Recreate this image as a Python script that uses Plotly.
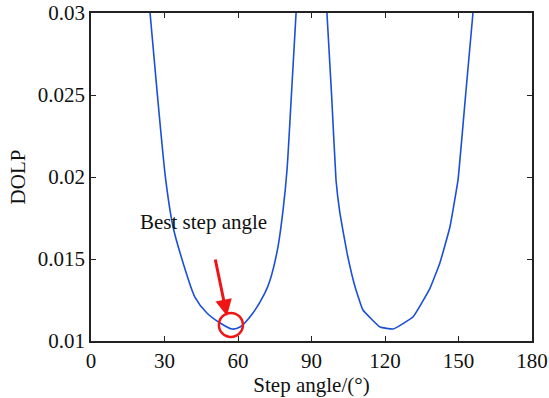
import plotly.graph_objects as go

# Step angle (deg) and DOLP values
step_left = [24.1, 27.1, 30.5, 33.5, 37.6, 42.4, 47.3, 52.7, 57.6, 60.8, 66.1, 71.0, 73.1, 76.3, 78.4, 80.0, 81.8, 83.7]
dolp_left = [0.0300, 0.0250, 0.01982, 0.01695, 0.01476, 0.01268, 0.01171, 0.01110, 0.01073, 0.01085,
             0.01171, 0.01293, 0.01372, 0.01573, 0.01799, 0.02043, 0.0250, 0.0300]
step_right = [96.3, 98.2, 100.0, 101.6, 104.5, 107.8, 111.0, 118.0, 123.3, 131.4, 138.4, 142.4, 146.5, 149.8, 152.9, 155.9]
dolp_right = [0.0300, 0.0250, 0.01982, 0.01780, 0.01537, 0.01329, 0.01189, 0.01085, 0.01073, 0.01146,
              0.01323, 0.01476, 0.01695, 0.01982, 0.0250, 0.0300]

x_ticks = [0, 30, 60, 90, 120, 150, 180]
y_ticks = [0.01, 0.015, 0.02, 0.025, 0.03]
y_tick_text = ["0.01", "0.015", "0.02", "0.025", "0.03"]

best_angle = 57.1
best_dolp = 0.01098
label_text = "Best step angle"

FONT = "Liberation Serif, Times New Roman, serif"
LINE = dict(color="#1a4fd8", width=1.6)
fig = go.Figure()
fig.add_trace(go.Scatter(x=step_left, y=dolp_left, mode="lines",
                         line=dict(LINE, shape="spline", smoothing=0.7),
                         showlegend=False, hoverinfo="skip"))
fig.add_trace(go.Scatter(x=step_right, y=dolp_right, mode="lines",
                         line=dict(LINE, shape="spline", smoothing=0.3),
                         showlegend=False, hoverinfo="skip"))

axis_common = dict(showline=True, linecolor="#222222", linewidth=1.6, mirror="ticks",
                   ticks="inside", ticklen=5, tickwidth=1.4, tickcolor="#222222",
                   showgrid=False, zeroline=False, automargin=False,
                   tickfont=dict(family=FONT, size=21, color="#111111"))

fig.update_xaxes(range=[0, 180], tickvals=x_ticks, **axis_common,
                 title=dict(text="Step angle/(°)", font=dict(family=FONT, size=21, color="#111111"), standoff=4))
fig.update_yaxes(range=[0.01, 0.03], tickvals=y_ticks, ticktext=y_tick_text, **axis_common,
                 title=dict(text="DOLP", font=dict(family=FONT, size=21, color="#111111"), standoff=6))

fig.add_shape(type="circle", xref="x", yref="y", xsizemode="pixel", ysizemode="pixel",
              xanchor=best_angle, yanchor=best_dolp, x0=-12, x1=12, y0=-12, y1=12,
              line=dict(color="#f01414", width=2.5))

fig.add_annotation(x=55.5, y=0.011524, xref="x", yref="y", text="", showarrow=True,
                   ax=-12, ay=-58, arrowhead=2, arrowsize=1.1, arrowwidth=3, arrowcolor="#f01414",
                   standoff=0)
fig.add_annotation(x=45.9, y=0.017256, xref="x", yref="y", text=label_text, showarrow=False,
                   font=dict(family=FONT, size=21, color="#111111"))

fig.update_layout(width=549, height=398, margin=dict(l=91, r=17, t=13, b=57),
                  paper_bgcolor="white", plot_bgcolor="white")

fig.write_html("out.html")
